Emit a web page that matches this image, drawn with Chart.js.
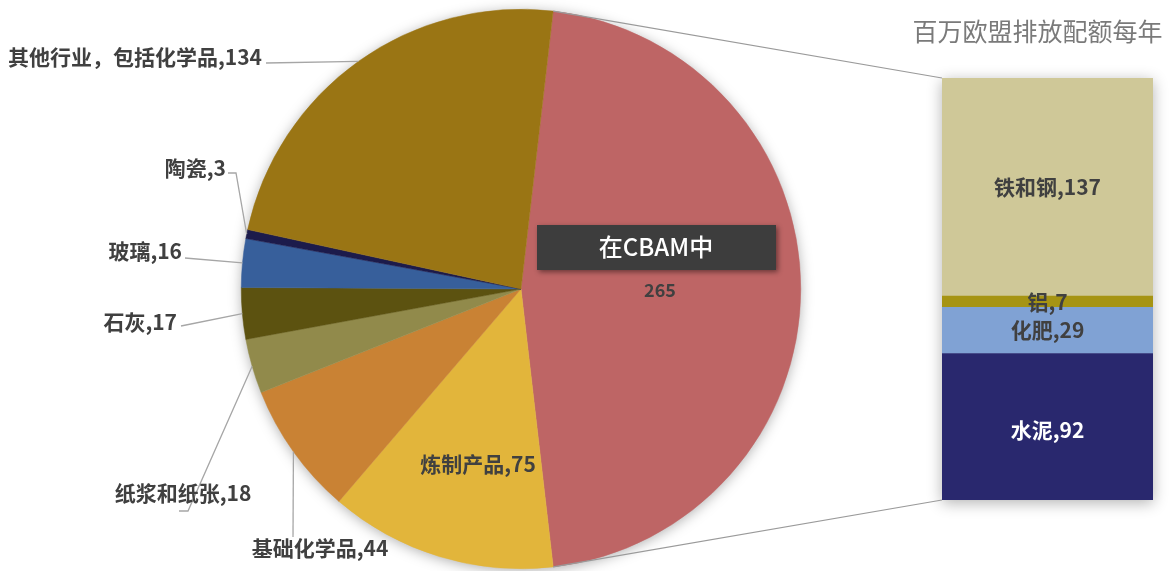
<!DOCTYPE html>
<html>
<head>
<meta charset="utf-8">
<script src="https://cdn.jsdelivr.net/npm/chart.js@4.4.1/dist/chart.umd.min.js"></script>
<style>
  body { margin: 0; background: #fff; }
  #wrap { position: relative; width: 1169px; height: 571px; }
  #wrap canvas { position: absolute; left: 0; top: 0; }
</style>
</head>
<body>
<div id="wrap">
  <canvas id="pieChart" width="1169" height="571"></canvas>
  <canvas id="barChart" width="1169" height="571"></canvas>
</div>
<script>
// pie slices, clockwise from the split slice
const pieLabels = ['在CBAM中', '炼制产品', '基础化学品', '纸浆和纸张', '石灰', '玻璃', '陶瓷', '其他行业，包括化学品'];
const pieValues = [265, 75, 44, 18, 17, 16, 3, 134];
const pieColors = ['#be6565', '#e2b53b', '#c98234', '#918a4b', '#5c5210', '#375f9b', '#1c1b4b', '#9a7514'];

// breakdown of the split slice, bottom to top
const barLabels = ['水泥', '化肥', '铝', '铁和钢'];
const barValues = [92, 29, 7, 137];
const barColors = ['#29286e', '#80a2d4', '#a69413', '#cfc898'];

const titleText = '百万欧盟排放配额每年';

const FONT = '"Noto Sans CJK SC", "Noto Sans", sans-serif';
const TEXT = '#404040';
const LINE = '#a6a6a6';

const pieTotal = pieValues.reduce((a, b) => a + b, 0);
const barTotal = barValues.reduce((a, b) => a + b, 0);

// where the slice labels sit (text anchor + leader line points before the pie edge)
const labelLayout = [
  null,
  { x: 478, y: 464, align: 'center' },
  { x: 320, y: 548, align: 'center', line: [[293, 537]] },
  { x: 183, y: 493, align: 'center', line: [[179, 511], [188, 511]] },
  { x: 177, y: 322, align: 'right', line: [[181, 326]] },
  { x: 182, y: 251, align: 'right', line: [[185, 258]] },
  { x: 226, y: 168, align: 'right', line: [[228, 173], [236, 173]] },
  { x: 262, y: 57, align: 'right', line: [[266, 63]] }
];

function edgePoint(arc) {
  const a = (arc.startAngle + arc.endAngle) / 2;
  return [arc.x + arc.outerRadius * Math.cos(a), arc.y + arc.outerRadius * Math.sin(a)];
}

const pieDecor = {
  id: 'pieDecor',
  beforeDatasetsDraw(chart) {
    const arc = chart.getDatasetMeta(0).data[0];
    const ctx = chart.ctx;
    ctx.save();
    ctx.shadowColor = 'rgba(0,0,0,0.35)';
    ctx.shadowBlur = 14;
    ctx.shadowOffsetY = 2;
    ctx.fillStyle = '#fff';
    ctx.beginPath();
    ctx.arc(arc.x, arc.y, arc.outerRadius - 1, 0, Math.PI * 2);
    ctx.fill();
    ctx.restore();
  },
  afterDatasetsDraw(chart) {
    const ctx = chart.ctx;
    const arcs = chart.getDatasetMeta(0).data;
    ctx.save();
    ctx.textBaseline = 'middle';
    arcs.forEach((arc, i) => {
      const lay = labelLayout[i];
      if (!lay) return;
      if (lay.line) {
        ctx.strokeStyle = LINE;
        ctx.lineWidth = 1.3;
        ctx.beginPath();
        ctx.moveTo(lay.line[0][0], lay.line[0][1]);
        lay.line.slice(1).forEach(p => ctx.lineTo(p[0], p[1]));
        const e = edgePoint(arc);
        ctx.lineTo(e[0], e[1]);
        ctx.stroke();
      }
      ctx.font = 'bold 21px ' + FONT;
      ctx.fillStyle = TEXT;
      ctx.textAlign = lay.align;
      ctx.fillText(pieLabels[i] + ',' + pieValues[i], lay.x, lay.y);
    });

    // label box of the split slice
    ctx.shadowColor = 'rgba(0,0,0,0.45)';
    ctx.shadowBlur = 5;
    ctx.shadowOffsetX = 2;
    ctx.shadowOffsetY = 2;
    ctx.fillStyle = '#3d3d3d';
    ctx.fillRect(537, 225, 239, 45);
    ctx.shadowColor = 'transparent';
    ctx.textAlign = 'center';
    ctx.fillStyle = '#fff';
    ctx.font = '500 24px ' + FONT;
    ctx.fillText(pieLabels[0], 656, 247);
    ctx.fillStyle = TEXT;
    ctx.font = 'bold 18px ' + FONT;
    ctx.fillText(String(pieValues[0]), 660, 290);
    ctx.restore();
  }
};

const pieChart = new Chart(document.getElementById('pieChart'), {
  type: 'pie',
  data: {
    labels: pieLabels,
    datasets: [{
      data: pieValues,
      backgroundColor: pieColors,
      borderColor: pieColors,
      borderWidth: 0.5
    }]
  },
  options: {
    responsive: false,
    animation: false,
    rotation: 90 - pieValues[0] / pieTotal * 180,
    layout: { padding: { left: 241, right: 368, top: 9, bottom: 2 } },
    plugins: { legend: { display: false }, tooltip: { enabled: false } }
  },
  plugins: [pieDecor]
});

const barDecor = {
  id: 'barDecor',
  beforeDatasetsDraw(chart) {
    const ctx = chart.ctx;
    const top = chart.getDatasetMeta(barValues.length - 1).data[0];
    const el = chart.getDatasetMeta(0).data[0];
    const left = el.x - el.width / 2;
    const bottom = chart.scales.y.getPixelForValue(0);
    ctx.save();
    ctx.shadowColor = 'rgba(0,0,0,0.3)';
    ctx.shadowBlur = 14;
    ctx.shadowOffsetY = 3;
    ctx.fillStyle = '#fff';
    ctx.fillRect(left, top.y, el.width, bottom - top.y);
    ctx.restore();
  },
  afterDatasetsDraw(chart) {
    const ctx = chart.ctx;
    const el0 = chart.getDatasetMeta(0).data[0];
    const topEl = chart.getDatasetMeta(barValues.length - 1).data[0];
    const left = el0.x - el0.width / 2;
    const bottom = chart.scales.y.getPixelForValue(0);
    const arc = pieChart.getDatasetMeta(0).data[0];

    ctx.save();
    // connectors from the split slice to the bar
    ctx.strokeStyle = '#9a9a9a';
    ctx.lineWidth = 1.2;
    ctx.beginPath();
    ctx.moveTo(arc.x + arc.outerRadius * Math.cos(arc.startAngle), arc.y + arc.outerRadius * Math.sin(arc.startAngle));
    ctx.lineTo(left, topEl.y);
    ctx.moveTo(arc.x + arc.outerRadius * Math.cos(arc.endAngle), arc.y + arc.outerRadius * Math.sin(arc.endAngle));
    ctx.lineTo(left, bottom);
    ctx.stroke();

    ctx.textAlign = 'center';
    ctx.textBaseline = 'middle';
    ctx.font = 'bold 21px ' + FONT;
    barValues.forEach((v, i) => {
      const el = chart.getDatasetMeta(i).data[0];
      ctx.fillStyle = i === 0 ? '#fff' : TEXT;
      const cy = (el.y + el.base) / 2 + (i === 0 ? 3 : 0);
      ctx.fillText(barLabels[i] + ',' + v, el.x, cy);
    });

    ctx.font = '25px ' + FONT;
    ctx.fillStyle = '#7a7a7a';
    ctx.fillText(titleText, el0.x - 10, 31);
    ctx.restore();
  }
};

new Chart(document.getElementById('barChart'), {
  type: 'bar',
  data: {
    labels: [''],
    datasets: barLabels.map((l, i) => ({
      label: l,
      data: [barValues[i]],
      backgroundColor: barColors[i],
      borderWidth: 0,
      barPercentage: 1,
      categoryPercentage: 1
    }))
  },
  options: {
    responsive: false,
    animation: false,
    layout: { padding: { left: 942, right: 16, top: 78, bottom: 71 } },
    scales: {
      x: { stacked: true, display: false },
      y: { stacked: true, display: false, min: 0, max: barTotal }
    },
    plugins: { legend: { display: false }, tooltip: { enabled: false } }
  },
  plugins: [barDecor]
});
</script>
</body>
</html>
